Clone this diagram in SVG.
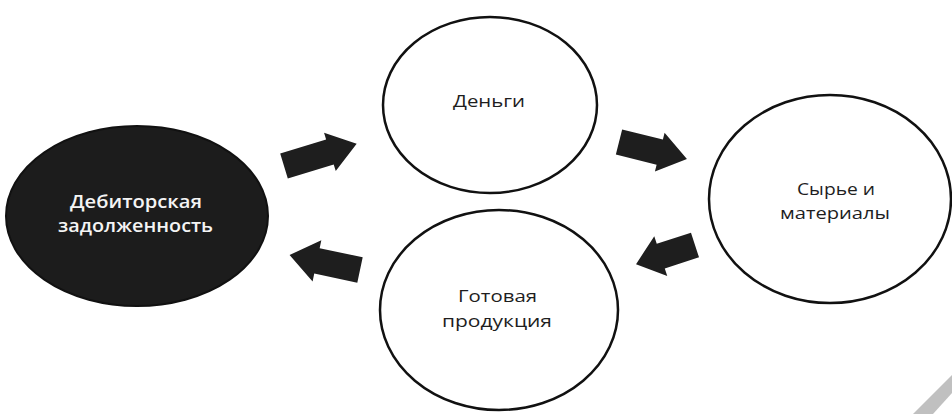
<svg xmlns="http://www.w3.org/2000/svg" width="952" height="414" viewBox="0 0 952 414">
  <style>
    .node { fill: #ffffff; stroke: #111111; stroke-width: 2.5; }
    .dark { fill: #1c1c1c; stroke: #111111; stroke-width: 2; }
    .lbl { font-family: "Open Sans", "Noto Sans", sans-serif; font-size: 17px; fill: #1e1e1e; text-anchor: middle; }
    .lblw { font-family: "Open Sans", "Noto Sans", sans-serif; font-size: 18px; font-weight: 600; fill: #f4f4f4; text-anchor: middle; }
    .arrow { fill: #1e1e1e; }
  </style>
  <rect width="952" height="414" fill="#ffffff"/>

  <g id="node-debt">
    <ellipse class="dark" cx="137" cy="216" rx="131" ry="90"/>
    <text class="lblw" x="136" y="208" textLength="132" lengthAdjust="spacingAndGlyphs">Дебиторская</text>
    <text class="lblw" x="135.5" y="232" textLength="155" lengthAdjust="spacingAndGlyphs">задолженность</text>
  </g>

  <g id="node-money">
    <ellipse class="node" cx="490" cy="105" rx="107" ry="88"/>
    <text class="lbl" x="489" y="107" textLength="72" lengthAdjust="spacingAndGlyphs">Деньги</text>
  </g>

  <g id="node-materials">
    <ellipse class="node" cx="830" cy="199" rx="121" ry="104"/>
    <text class="lbl" x="836" y="195" textLength="78" lengthAdjust="spacingAndGlyphs">Сырье и</text>
    <text class="lbl" x="835" y="219" textLength="110" lengthAdjust="spacingAndGlyphs">материалы</text>
  </g>

  <g id="node-products">
    <ellipse class="node" cx="499" cy="310" rx="119" ry="100"/>
    <text class="lbl" x="497.5" y="302" textLength="79" lengthAdjust="spacingAndGlyphs">Готовая</text>
    <text class="lbl" x="497" y="327" textLength="110" lengthAdjust="spacingAndGlyphs">продукция</text>
  </g>

  <g id="connectors">
    <polygon class="arrow" transform="translate(284,166) rotate(-17)" points="0,-13 48,-13 48,-20 76,0 48,20 48,13 0,13"/>
    <polygon class="arrow" transform="translate(619,142) rotate(14)" points="0,-13 42,-13 42,-20 70,0 42,20 42,13 0,13"/>
    <polygon class="arrow" transform="translate(695,245) rotate(162)" points="0,-13 36,-13 36,-21 62,0 36,21 36,13 0,13"/>
    <polygon class="arrow" transform="translate(360,270) rotate(192)" points="0,-13 44,-13 44,-21 72,0 44,21 44,13 0,13"/>
  </g>

  <polygon points="913,414 933,414 952,393 952,375" fill="#c0c0c0"/>
</svg>
